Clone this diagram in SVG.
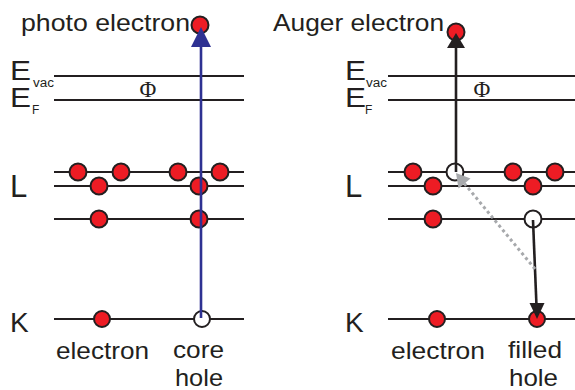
<svg xmlns="http://www.w3.org/2000/svg" width="575" height="390" viewBox="0 0 575 390">
<style>
.t{font-family:"Liberation Sans",Arial,sans-serif;fill:#231f20}
.lbl{font-size:24px}
.big{font-size:28px}
.sub{font-size:12px}
.phi{font-family:"Liberation Serif","Times New Roman",serif;font-size:23px;fill:#231f20;text-anchor:middle}
.lv{stroke:#231f20;stroke-width:2.2;fill:none}
.e{fill:#ed1c24;stroke:#231f20;stroke-width:2}
.h{fill:#ffffff;stroke:#231f20;stroke-width:2}
</style>
<rect width="575" height="390" fill="#ffffff"/>
<g id="labels">
<text class="t lbl" x="21" y="31" textLength="169" lengthAdjust="spacingAndGlyphs">photo electron</text>
<text class="t lbl" x="273" y="31" textLength="171" lengthAdjust="spacingAndGlyphs">Auger electron</text>
<text class="t big" x="10" y="80" textLength="21" lengthAdjust="spacingAndGlyphs">E</text><text class="t sub" x="33" y="87" textLength="21" lengthAdjust="spacingAndGlyphs">vac</text>
<text class="t big" x="10" y="107" textLength="21" lengthAdjust="spacingAndGlyphs">E</text><text class="t sub" x="32" y="114">F</text>
<text class="t big" x="345" y="80" textLength="21" lengthAdjust="spacingAndGlyphs">E</text><text class="t sub" x="366" y="87" textLength="21" lengthAdjust="spacingAndGlyphs">vac</text>
<text class="t big" x="345" y="107" textLength="21" lengthAdjust="spacingAndGlyphs">E</text><text class="t sub" x="365" y="114">F</text>
<text class="phi" x="148" y="97">Φ</text>
<text class="phi" x="482" y="97">Φ</text>
<text class="t" x="10" y="197" style="font-size:31px">L</text>
<text class="t" x="345" y="197" style="font-size:31px">L</text>
<text class="t big" x="10" y="332">K</text>
<text class="t big" x="345" y="332">K</text>
<text class="t lbl" x="56" y="359" textLength="93" lengthAdjust="spacingAndGlyphs">electron</text>
<text class="t lbl" x="173" y="358" textLength="51" lengthAdjust="spacingAndGlyphs">core</text>
<text class="t lbl" x="175" y="386" textLength="48" lengthAdjust="spacingAndGlyphs">hole</text>
<text class="t lbl" x="391" y="359" textLength="94" lengthAdjust="spacingAndGlyphs">electron</text>
<text class="t lbl" x="508" y="358" textLength="54" lengthAdjust="spacingAndGlyphs">filled</text>
<text class="t lbl" x="509" y="386" textLength="49" lengthAdjust="spacingAndGlyphs">hole</text>
</g>
<g id="levels-photo">
<line class="lv" x1="54" y1="76" x2="244" y2="76"/>
<line class="lv" x1="54" y1="100" x2="244" y2="100"/>
<line class="lv" x1="54" y1="172" x2="244" y2="172"/>
<line class="lv" x1="54" y1="186" x2="244" y2="186"/>
<line class="lv" x1="54" y1="219" x2="244" y2="219"/>
<line class="lv" x1="54" y1="319" x2="244" y2="319"/>
</g>
<g id="levels-auger">
<line class="lv" x1="388" y1="76" x2="575" y2="76"/>
<line class="lv" x1="388" y1="100" x2="575" y2="100"/>
<line class="lv" x1="388" y1="172" x2="575" y2="172"/>
<line class="lv" x1="388" y1="186" x2="575" y2="186"/>
<line class="lv" x1="388" y1="219" x2="575" y2="219"/>
<line class="lv" x1="388" y1="319" x2="575" y2="319"/>
</g>
<g id="electrons-photo">
<circle class="e" cx="200" cy="25" r="8.5"/>
<circle class="e" cx="78" cy="172" r="8.5"/>
<circle class="e" cx="121" cy="172" r="8.5"/>
<circle class="e" cx="178" cy="172" r="8.5"/>
<circle class="e" cx="220" cy="172" r="8.5"/>
<circle class="e" cx="99" cy="186" r="8.5"/>
<circle class="e" cx="199" cy="186" r="8.5"/>
<circle class="e" cx="99" cy="219" r="8.5"/>
<circle class="e" cx="199" cy="219" r="8.5"/>
<circle class="e" cx="102" cy="319" r="8"/>
<circle class="h" cx="202" cy="319" r="8"/>
</g>
<g id="electrons-auger">
<circle class="e" cx="456" cy="32" r="8.5"/>
<circle class="e" cx="413" cy="172" r="8.5"/>
<circle class="h" cx="455" cy="172" r="8.5"/>
<circle class="e" cx="513" cy="172" r="8.5"/>
<circle class="e" cx="555" cy="172" r="8.5"/>
<circle class="e" cx="433" cy="186" r="8.5"/>
<circle class="e" cx="533" cy="186" r="8.5"/>
<circle class="e" cx="433" cy="219" r="8.5"/>
<circle class="h" cx="533" cy="219" r="8.5"/>
<circle class="e" cx="437" cy="319" r="8"/>
<circle class="e" cx="537" cy="319" r="8"/>
</g>
<g id="connectors">
<line x1="201" y1="318" x2="201" y2="44" stroke="#2e3192" stroke-width="2.6"/>
<polygon points="201,27 191,47 211,47" fill="#2e3192"/>
<line x1="456" y1="172" x2="456" y2="46" stroke="#231f20" stroke-width="2.6"/>
<polygon points="456,33 447,48 465,48" fill="#231f20"/>
<line x1="533" y1="220" x2="536.5" y2="306" stroke="#231f20" stroke-width="2.6"/>
<polygon points="537,319 529.5,303 544.5,303" fill="#231f20"/>
<line x1="535" y1="269" x2="464" y2="183" stroke="#a7a9ac" stroke-width="3" stroke-dasharray="3 3"/>
<polygon points="456,173 470.5,178.5 458.5,188.5" fill="#a7a9ac"/>
</g>
</svg>
